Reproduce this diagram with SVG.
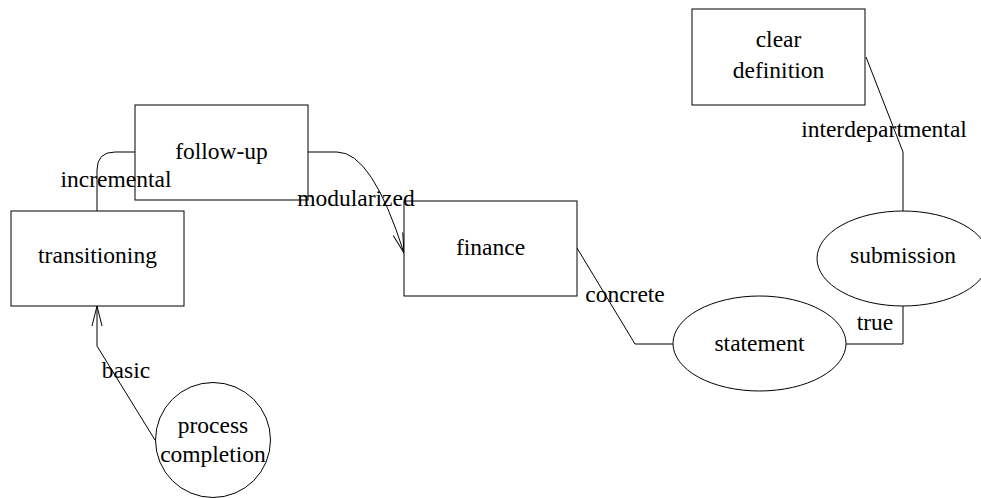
<svg xmlns="http://www.w3.org/2000/svg" width="981" height="498" viewBox="0 0 981 498">
<style>
.n{fill:#fff;stroke:#000;stroke-width:1}
text{font-family:"Liberation Serif","Times New Roman",serif;font-size:23.5px;fill:#000;text-anchor:middle}
.e{fill:none;stroke:#000;stroke-width:1}
</style>
<defs>
<marker id="arr" markerWidth="24" markerHeight="14" refX="20" refY="6" orient="auto" markerUnits="userSpaceOnUse">
<path d="M0,1 L20,6 L0,11" fill="none" stroke="#000" stroke-width="1"/>
</marker>
</defs>
<rect width="981" height="498" fill="#fff"/>
<g id="connectors">
<path class="e" d="M97,211 L97,170 Q97,152 115,152 L135,152"/>
<path class="e" d="M308,152 L337,152 Q372,152 404,253" marker-end="url(#arr)"/>
<path class="e" d="M155,440 L97,346 L97,306" marker-end="url(#arr)"/>
<path class="e" d="M577,248 L635,344 L673,344"/>
<path class="e" d="M846,344 L903,344 L903,306"/>
<path class="e" d="M866,57 L903,152 L903,211"/>
</g>
<g id="follow-up"><rect class="n" x="135" y="105" width="173" height="95"/><text x="221.5" y="159">follow-up</text></g>
<g id="transitioning"><rect class="n" x="11" y="211" width="173" height="95"/><text x="97.5" y="263">transitioning</text></g>
<g id="finance"><rect class="n" x="404" y="201" width="173" height="95"/><text x="490.5" y="255">finance</text></g>
<g id="clear-definition"><rect class="n" x="692" y="9" width="173" height="96"/><text x="778.5" y="47">clear</text><text x="778.5" y="78">definition</text></g>
<g id="submission"><ellipse class="n" cx="903" cy="258.5" rx="86" ry="47.5"/><text x="903" y="263">submission</text></g>
<g id="statement"><ellipse class="n" cx="759.5" cy="343.5" rx="86.5" ry="47.5"/><text x="759.5" y="351">statement</text></g>
<g id="process-completion"><circle class="n" cx="213" cy="440" r="57.5"/><text x="213" y="433">process</text><text x="213" y="462">completion</text></g>
<g id="labels">
<text x="116" y="187">incremental</text>
<text x="356" y="206">modularized</text>
<text x="126" y="378">basic</text>
<text x="625" y="302">concrete</text>
<text x="875" y="330">true</text>
<text x="884" y="137">interdepartmental</text>
</g>
</svg>
